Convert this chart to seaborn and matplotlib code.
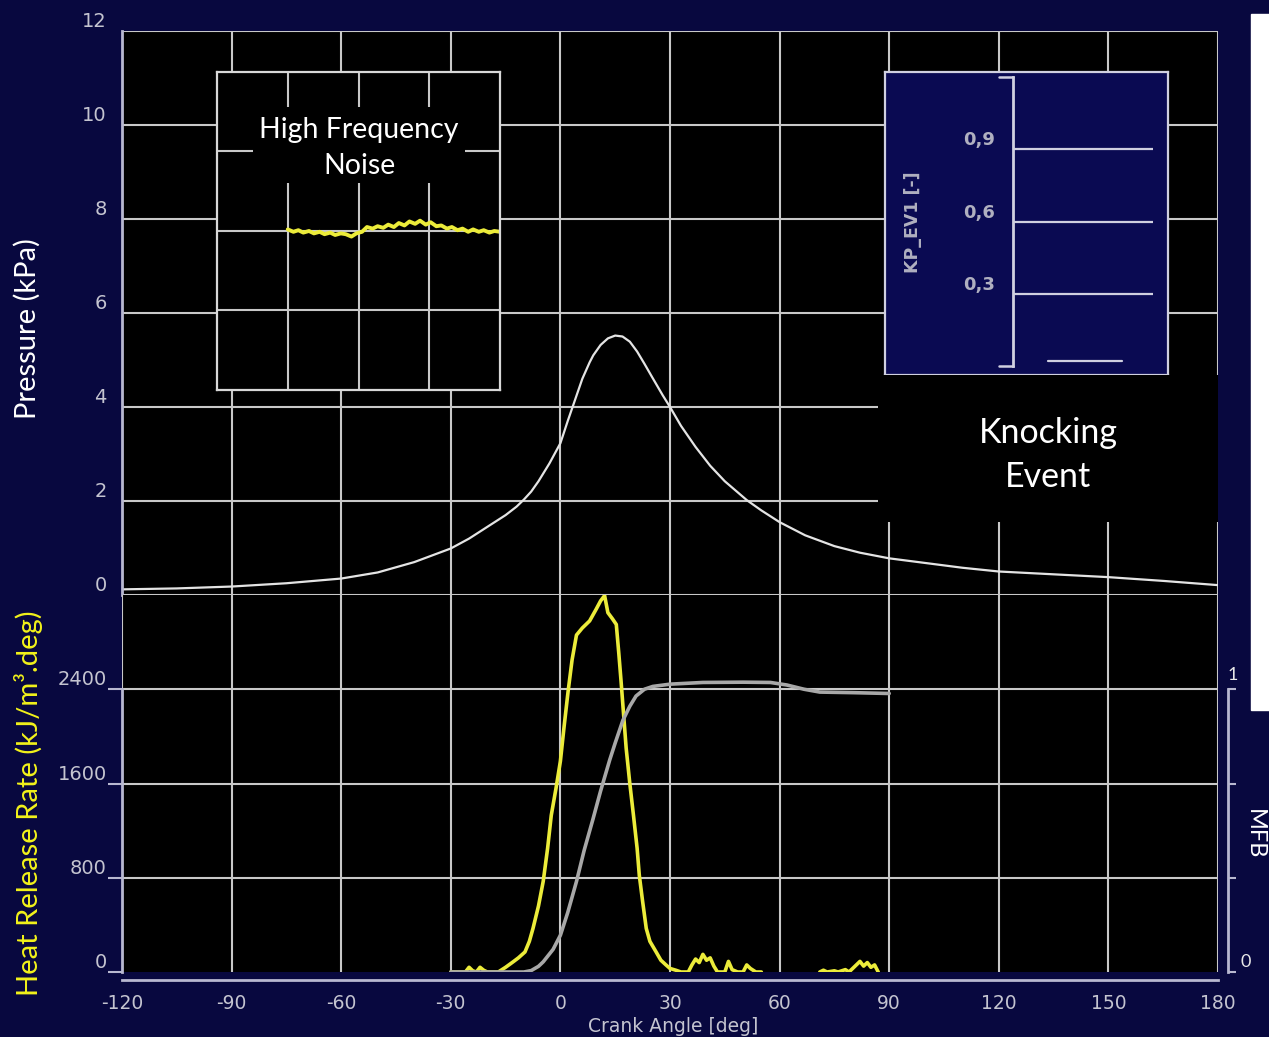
import pandas as pd
import seaborn as sns
import matplotlib.pyplot as plt
from matplotlib.patches import Rectangle

# Dữ liệu
angle_ticks = [-120, -90, -60, -30, 0, 30, 60, 90, 120, 150, 180]
pressure_ticks = [0, 2, 4, 6, 8, 10, 12]
hrr_ticks = [0, 800, 1600, 2400]

p_angle = [-120, -105, -90, -75, -60, -50, -40, -30, -25, -20, -15, -12, -10, -8, -6, -3, 0,
           2, 4, 6, 8, 9, 11, 13, 15, 17, 19, 21, 23, 25, 28, 30, 33, 37, 41, 45, 51,
           55, 60, 67, 75, 82, 90, 100, 110, 120, 135, 150, 165, 180]
p_kpa = [0.12, 0.14, 0.18, 0.25, 0.35, 0.48, 0.7, 0.99, 1.2, 1.45, 1.7, 1.88, 2.03, 2.2, 2.42, 2.8, 3.23,
         3.7, 4.15, 4.6, 4.95, 5.1, 5.32, 5.46, 5.52, 5.5, 5.39, 5.18, 4.92, 4.65, 4.25, 4.0, 3.6, 3.15, 2.75, 2.42, 2.02,
         1.8, 1.55, 1.27, 1.04, 0.9, 0.78, 0.68, 0.58, 0.5, 0.44, 0.38, 0.3, 0.21]

hrr_angle = [-30, -26, -25, -24, -23, -22, -21, -20, -17, -15, -13, -11.5, -9.7, -8.5, -7.5,
             -6, -4.7, -3.5, -2.5, -1.2, 0, 1, 2.1, 3.2, 4.4, 6, 8, 9.8, 11, 12.1, 13,
             14.2, 15.3, 16, 16.6, 18, 19, 20, 21, 21.6, 22.5, 23.5, 24.5, 26.2, 27.5,
             28.9, 30, 31.6, 33, 35, 36, 37, 38, 39, 40, 41, 42, 43, 45, 46, 47, 48.5,
             50, 51, 52, 53.5, 55,
             71, 72, 73, 75, 76, 78, 79, 80, 81, 82, 83, 84, 85, 86, 87]
hrr_value = [0, 0, 40, 10, 0, 40, 15, 0, 0, 40, 85, 120, 170, 260, 370,
             560, 770, 1050, 1330, 1560, 1790, 2080, 2380, 2650, 2860, 2920, 2980, 3080, 3150, 3195, 3050,
             3000, 2950, 2700, 2470, 1900, 1600, 1330, 1050, 820, 600, 370, 260, 170, 100,
             60, 30, 15, 0, 0, 60, 110, 80, 150, 100, 120, 50, 0, 0, 90, 20, 0,
             0, 60, 30, 0, 0,
             0, 15, 0, 10, 0, 20, 0, 30, 60, 90, 50, 80, 40, 60, 0]
hrr_segment = [1] * 67 + [2] * 15

mfb_angle = [-30, -16, -10, -8, -6, -4.7, -2, 0, 2, 4.4, 6.5, 8.9, 11, 13.5, 15, 17.1,
             19, 20.7, 23, 25.3, 30, 39, 50, 57.5, 62, 66.7, 71, 80, 90]
mfb_value = [0, 0, 0, 0.005, 0.02, 0.036, 0.08, 0.13, 0.21, 0.32, 0.43, 0.54, 0.64, 0.75, 0.81, 0.89,
             0.94, 0.976, 1.0, 1.01, 1.018, 1.024, 1.025, 1.024, 1.015, 1.0, 0.99, 0.988, 0.985]
mfb_ticks = [0, 1 / 3, 2 / 3, 1]

noise_x = [1.00, 1.08, 1.15, 1.22, 1.30, 1.37, 1.45, 1.52, 1.60, 1.67, 1.75, 1.82, 1.90, 1.97,
           2.05, 2.12, 2.20, 2.27, 2.35, 2.42, 2.50, 2.57, 2.65, 2.72, 2.80, 2.87, 2.95, 3.02,
           3.10, 3.17, 3.25, 3.32, 3.40, 3.47, 3.55, 3.62, 3.70, 3.77, 3.85, 3.92, 4.00]
noise_y = [2.02, 1.99, 2.01, 1.98, 2.00, 1.97, 1.99, 1.96, 1.98, 1.95, 1.97, 1.96, 1.93, 1.97,
           1.99, 2.05, 2.03, 2.06, 2.04, 2.08, 2.05, 2.10, 2.07, 2.12, 2.09, 2.13, 2.08, 2.11,
           2.06, 2.07, 2.03, 2.05, 2.01, 2.03, 1.99, 2.02, 1.99, 2.01, 1.98, 2.00, 1.99]

kp_ticks = [0, 0.3, 0.6, 0.9, 1.2]
kp_labels = ["", "0,3", "0,6", "0,9", ""]
kp_x = [0.25, 0.78]
kp_y = [0.02, 0.02]

W, H = 1269, 1037
NAVY = "#08083f"
GRID = "#c8c8c8"
AXC = "#b8b8d0"
TXT = "#c4c4d0"
YEL = "#ecec3a"
KPC = "#d0d0e0"


def box(x0, y0, x1, y1):
    # hộp pixel -> toạ độ figure
    return [x0 / W, 1 - y1 / H, (x1 - x0) / W, (y1 - y0) / H]


def plain(ax, face):
    ax.set_facecolor(face)
    ax.set_xticks([])
    ax.set_yticks([])
    for s in ax.spines.values():
        s.set_visible(False)


def labels_above(ax):
    # nhãn tick nằm phía trên vạch tick
    for lab in ax.get_yticklabels():
        lab.set_va("bottom")


sns.set_style("dark", {"axes.facecolor": "black", "figure.facecolor": NAVY})
plt.rcParams["font.family"] = ["Lato", "DejaVu Sans"]
plt.rcParams["axes.unicode_minus"] = False

fig = plt.figure(figsize=(W / 100, H / 100), dpi=100, facecolor=NAVY)

# --- Pressure (trên) ---
ax_p = fig.add_axes(box(122, 31, 1218, 595))
sns.lineplot(x=p_angle, y=p_kpa, ax=ax_p, color="#e4e4e4", linewidth=1.6)
ax_p.set_xlim(-120, 180)
ax_p.set_ylim(0, 12)
ax_p.set_xticks(angle_ticks)
ax_p.set_yticks(pressure_ticks)
ax_p.grid(True, color=GRID, linewidth=1.5)
ax_p.tick_params(axis="x", length=0, labelbottom=False)
ax_p.tick_params(axis="y", direction="out", length=10, width=1.5, color=AXC,
                 labelcolor=TXT, labelsize=14, pad=1, labelfontfamily="DejaVu Sans")
labels_above(ax_p)
for k in ["top", "right", "bottom"]:
    ax_p.spines[k].set_visible(False)
ax_p.spines["left"].set_color(AXC)
ax_p.spines["left"].set_linewidth(2)

# --- Heat release rate (dưới) ---
ax_h = fig.add_axes(box(122, 595, 1218, 972))
hrr_df = pd.DataFrame({"angle": hrr_angle, "hrr": hrr_value, "seg": hrr_segment})
sns.lineplot(data=hrr_df, x="angle", y="hrr", units="seg", estimator=None,
             ax=ax_h, color=YEL, linewidth=2.6)
ax_h.set_xlim(-120, 180)
ax_h.set_ylim(0, 3200)
ax_h.set_xticks(angle_ticks)
ax_h.set_yticks(hrr_ticks)
ax_h.set_xlabel("")
ax_h.set_ylabel("")
ax_h.grid(True, color=GRID, linewidth=1.5)
ax_h.get_ygridlines()[0].set_visible(False)
ax_h.tick_params(axis="y", direction="out", length=10, width=1.5, color=AXC,
                 labelcolor=TXT, labelsize=14, pad=1, labelfontfamily="DejaVu Sans")
ax_h.tick_params(axis="x", direction="in", length=6, width=1.5, color=AXC,
                 labelcolor=TXT, labelsize=13.5, pad=10, labelfontfamily="DejaVu Sans")
labels_above(ax_h)
for k in ["top", "right"]:
    ax_h.spines[k].set_visible(False)
ax_h.spines["left"].set_bounds(0, 2400)
ax_h.spines["bottom"].set_position(("outward", 6))
for k in ["left", "bottom"]:
    ax_h.spines[k].set_color(AXC)
    ax_h.spines[k].set_linewidth(2)

# --- MFB (trục phải) ---
ax_m = ax_h.twinx()
sns.lineplot(x=mfb_angle, y=mfb_value, ax=ax_m, color="#a8a8a8", linewidth=2.6)
ax_m.set_ylim(0, 3200 / 2400)
ax_m.set_yticks(mfb_ticks)
ax_m.set_yticklabels([])
ax_m.tick_params(axis="y", direction="out", length=6, width=1.5, color=AXC)
for k in ["top", "left", "bottom"]:
    ax_m.spines[k].set_visible(False)
ax_m.spines["right"].set_position(("outward", 7))
ax_m.spines["right"].set_bounds(0, 1)
ax_m.spines["right"].set_color(AXC)
ax_m.spines["right"].set_linewidth(2)
ax_m.grid(False)
ax_m.annotate("1", xy=(1, mfb_ticks[-1]), xycoords=("axes fraction", "data"),
              xytext=(15, 6), textcoords="offset pixels", ha="center", va="bottom",
              color="#e8e8e8", fontsize=13)
ax_m.annotate("0", xy=(1, mfb_ticks[0]), xycoords=("axes fraction", "data"),
              xytext=(28, 2), textcoords="offset pixels", ha="center", va="bottom",
              color="#e8e8e8", fontsize=13)

# --- Inset nhiễu tần số cao ---
ax_n = fig.add_axes(box(217, 72, 500, 390))
sns.lineplot(x=noise_x, y=noise_y, ax=ax_n, color=YEL, linewidth=2.8)
ax_n.set_xlim(0, 4)
ax_n.set_ylim(0, 4)
ax_n.set_xticks([1, 2, 3])
ax_n.set_yticks([1, 2, 3])
ax_n.grid(True, color=GRID, linewidth=1.5)
ax_n.tick_params(length=0, labelbottom=False, labelleft=False)
for s in ax_n.spines.values():
    s.set_visible(True)
    s.set_color("#d8d8d8")
    s.set_linewidth(1.6)

ax_nt = fig.add_axes(box(253, 107, 465, 183))
plain(ax_nt, "black")
ax_nt.text(0.5, 0.46, "High Frequency\nNoise", ha="center", va="center", color="white",
           fontsize=20.5, linespacing=1.5, transform=ax_nt.transAxes)

# --- Inset knocking ---
ax_k = fig.add_axes(box(885, 72, 1168, 375))
plain(ax_k, "#0a0a52")
for s in ax_k.spines.values():
    s.set_visible(True)
    s.set_color(KPC)
    s.set_linewidth(1.6)

ax_ki = fig.add_axes(box(1013, 77, 1153, 366))
ax_ki.patch.set_visible(False)
sns.lineplot(x=kp_x, y=kp_y, ax=ax_ki, color=KPC, linewidth=1.6)
ax_ki.set_xlim(0, 1)
ax_ki.set_ylim(0, 1.2)
ax_ki.set_xticks([])
ax_ki.set_yticks(kp_ticks)
ax_ki.set_yticklabels(kp_labels)
for v in kp_ticks[1:4]:
    ax_ki.axhline(v, color=KPC, linewidth=1.6)
for v in [kp_ticks[0], kp_ticks[-1]]:
    ax_ki.plot([-0.1, 0], [v, v], color=KPC, linewidth=1.8, clip_on=False)
ax_ki.tick_params(axis="y", direction="out", length=12, width=1.6, color=KPC,
                  labelcolor="#b0b0c0", labelsize=13, pad=1, labelfontfamily="DejaVu Sans")
labels_above(ax_ki)
for lab in ax_ki.get_yticklabels():
    lab.set_fontweight("bold")
for k in ["top", "right", "bottom"]:
    ax_ki.spines[k].set_visible(False)
ax_ki.spines["left"].set_color(KPC)
ax_ki.spines["left"].set_linewidth(2)
ax_ki.grid(False)
fig.text(913 / W, 1 - 222 / H, "KP_EV1 [-]", rotation=90, ha="center", va="center",
         color="#b0b0c0", fontsize=12.5, family="DejaVu Sans", fontweight="bold")

ax_kt = fig.add_axes(box(878, 375, 1218, 522))
plain(ax_kt, "black")
ax_kt.text(0.5, 0.455, "Knocking\nEvent", ha="center", va="center", color="white",
           fontsize=24.5, linespacing=1.45, transform=ax_kt.transAxes)

# --- Nhãn trục ---
fig.text(27 / W, 1 - 329 / H, "Pressure (kPa)", rotation=90, ha="center", va="center",
         color="white", fontsize=21)
fig.text(29 / W, 1 - 803 / H, "Heat Release Rate (kJ/m³.deg)", rotation=90, ha="center",
         va="center", color="#f2f21a", fontsize=21)
fig.text(673 / W, 1 - 1026 / H, "Crank Angle [deg]", ha="center", va="center",
         color=TXT, fontsize=13.5, family="DejaVu Sans")
fig.text(1254 / W, 1 - 834 / H, "MFB", rotation=-90, ha="center", va="center",
         color="white", fontsize=17)

# dải trắng bên phải
fig.patches.append(Rectangle((1251 / W, 1 - 710 / H), 18 / W, 696 / H,
                             transform=fig.transFigure, color="white", zorder=5))

plt.savefig("out.png", dpi=100, facecolor=NAVY)
